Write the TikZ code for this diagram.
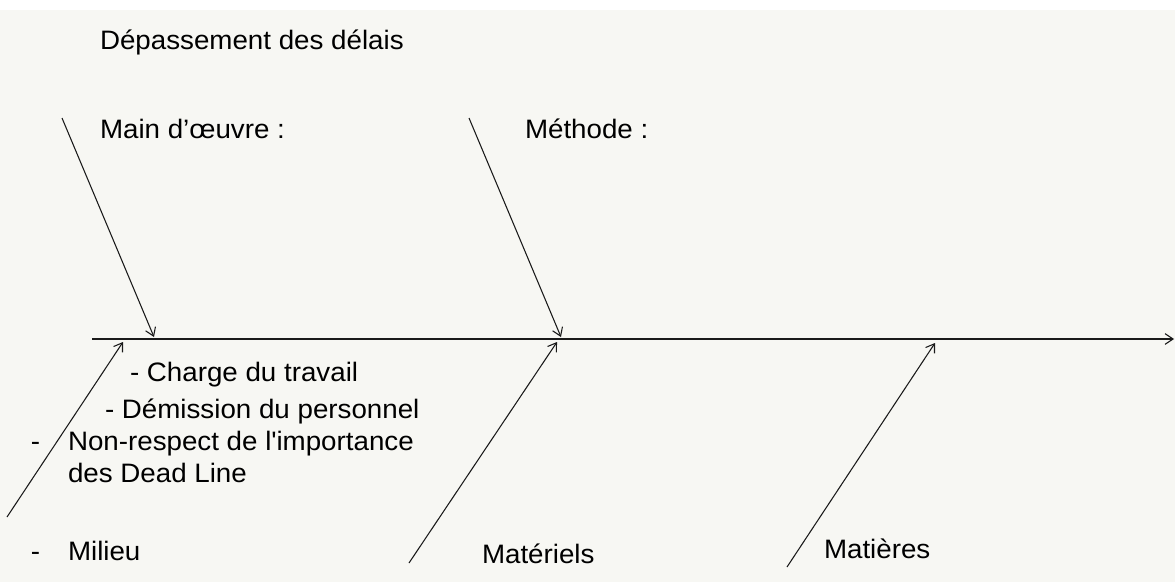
\documentclass[tikz,border=0pt]{standalone}
\usepackage{fontspec}
\setmainfont{Liberation Sans}[FakeStretch=1.04]
\usetikzlibrary{arrows.meta}
\definecolor{bgcol}{HTML}{F7F7F3}
\definecolor{inkcol}{HTML}{1A1A1A}
\tikzset{
  lbl/.style={anchor=base west, inner sep=0pt, outer sep=0pt, text=black,
              font=\fontsize{20pt}{24pt}\selectfont},
  bone/.style={draw=inkcol, line width=0.8pt,
               -{Straight Barb[length=6pt,width=8pt,line width=0.8pt]}},
}
\begin{document}
\begin{tikzpicture}[x=0.75pt,y=-0.75pt]
\useasboundingbox (0,0) rectangle (1175,582);
\fill[white] (0,0) rectangle (1175,582);
\fill[bgcol] (0,10) rectangle (1175,582);
% spine
\coordinate (spineS) at (92,339);
\coordinate (spineE) at (1174,339);
\draw[bone] (spineS) -- (spineE);
% bone ends
\coordinate (mainS) at (62,118);
\coordinate (mainT) at (154,337);
\coordinate (methS) at (469,118);
\coordinate (methT) at (561,337);
\coordinate (milS) at (7,517);
\coordinate (milT) at (123,342);
\coordinate (matS) at (409,563);
\coordinate (matT) at (557,342);
\coordinate (matiS) at (787,567);
\coordinate (matiT) at (935,343);
\draw[bone] (mainS) -- (mainT);
\draw[bone] (methS) -- (methT);
\draw[bone] (milS) -- (milT);
\draw[bone] (matS) -- (matT);
\draw[bone] (matiS) -- (matiT);
% labels
\node[lbl] (title) at (100,49) {Dépassement des délais};
\node[lbl] (main) at (100,138) {Main d’œuvre :};
\node[lbl] (meth) at (525,138) {Méthode :};
\node[lbl] (c1) at (130,381) {- Charge du travail};
\node[lbl] (c2) at (105,418) {- Démission du personnel};
\node[lbl] (d3) at (31,450) {-};
\node[lbl] (c3) at (68,450) {Non-respect de l\textquotesingle importance};
\node[lbl] (c3b) at (68,482) {des Dead Line};
\node[lbl] (d4) at (31,560) {-};
\node[lbl] (mil) at (68,560) {Milieu};
\node[lbl] (mat) at (482,563) {Matériels};
\node[lbl] (mati) at (824,558) {Matières};
\end{tikzpicture}
\end{document}
